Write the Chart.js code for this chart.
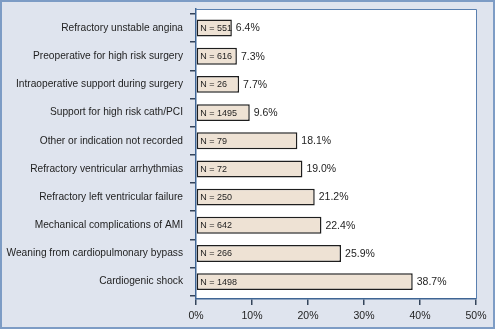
<!DOCTYPE html>
<html>
<head>
<meta charset="utf-8">
<script src="https://cdn.jsdelivr.net/npm/chart.js@4"></script>
<style>
  html, body { margin: 0; padding: 0; background: #dfe4ee; }
  canvas { display: block; }
</style>
</head>
<body>
<canvas id="chart" width="495" height="329"></canvas>
<script>
// IABP indications: share of patients (%) and counts
const categories = [
  "Refractory unstable angina",
  "Preoperative for high risk surgery",
  "Intraoperative support during surgery",
  "Support for high risk cath/PCI",
  "Other or indication not recorded",
  "Refractory ventricular arrhythmias",
  "Refractory left ventricular failure",
  "Mechanical complications of AMI",
  "Weaning from cardiopulmonary bypass",
  "Cardiogenic shock"
];
const percents = [6.4, 7.3, 7.7, 9.6, 18.1, 19.0, 21.2, 22.4, 25.9, 38.7];
const counts = [551, 616, 26, 1495, 79, 72, 250, 642, 266, 1498];
const xTicks = [0, 10, 20, 30, 40, 50];

const axisBlue = "#3f6594";
const tickColor = "#34445a";
const textColor = "#1e1e1e";
const fontFamily = "'Liberation Sans', Arial, Helvetica, sans-serif";

// background, outer frame and white plot box
const framePlugin = {
  id: "frame",
  beforeDraw(chart) {
    const { ctx, chartArea: a } = chart;
    ctx.save();
    ctx.fillStyle = "#dfe4ee";
    ctx.fillRect(0, 0, chart.width, chart.height);
    ctx.strokeStyle = "#7d9cc5";
    ctx.lineWidth = 2;
    ctx.strokeRect(1, 1, chart.width - 2, chart.height - 2);
    ctx.fillStyle = "#ffffff";
    ctx.fillRect(a.left, a.top, a.right - a.left, a.bottom - a.top);
    ctx.restore();
  },
  afterDraw(chart) {
    const { ctx, chartArea: a } = chart;
    ctx.save();
    ctx.strokeStyle = "#5a80b0";
    ctx.lineWidth = 1;
    ctx.beginPath();
    ctx.moveTo(a.left, a.top + 0.5);
    ctx.lineTo(a.right + 0.5, a.top + 0.5);
    ctx.lineTo(a.right + 0.5, a.bottom);
    ctx.stroke();
    ctx.restore();
  }
};

// "N = ..." inside the bar, percentage after it
const labelPlugin = {
  id: "barLabels",
  afterDatasetsDraw(chart) {
    const { ctx } = chart;
    const meta = chart.getDatasetMeta(0);
    ctx.save();
    ctx.fillStyle = textColor;
    ctx.textBaseline = "middle";
    ctx.textAlign = "left";
    meta.data.forEach((bar, i) => {
      ctx.font = "9px " + fontFamily;
      ctx.fillText("N = " + counts[i], bar.base + 3.5, bar.y + 0.5);
      ctx.font = "10.5px " + fontFamily;
      ctx.fillText(percents[i].toFixed(1) + "%", bar.x + 4, bar.y + 0.5);
    });
    ctx.restore();
  }
};

new Chart(document.getElementById("chart"), {
  type: "bar",
  data: {
    datasets: [{
      data: categories.map((c, i) => ({ x: percents[i], y: i })),
      backgroundColor: "#eee2d4",
      borderColor: "#1e1e1e",
      borderWidth: 1.5,
      borderSkipped: false,
      barPercentage: 0.6,
      categoryPercentage: 1.0
    }]
  },
  options: {
    indexAxis: "y",
    responsive: false,
    animation: false,
    layout: { padding: { top: 9, right: 19, left: 0, bottom: 0 }, autoPadding: false },
    plugins: {
      legend: { display: false },
      tooltip: { enabled: false }
    },
    scales: {
      x: {
        type: "linear",
        min: 0,
        max: 50,
        offset: false,
        afterBuildTicks: (scale) => {
          scale.ticks = xTicks.map(v => ({ value: v }));
        },
        afterFit: (scale) => {
          scale.height = 30;
          scale.paddingLeft = 0;
          scale.paddingRight = 0;
        },
        ticks: {
          callback: (v) => v + "%",
          color: textColor,
          font: { size: 10.5, family: fontFamily },
          padding: 5,
          maxRotation: 0
        },
        grid: {
          drawOnChartArea: false,
          tickLength: 6,
          lineWidth: 1.5,
          color: tickColor
        },
        border: { color: axisBlue, width: 1.5 }
      },
      y: {
        type: "linear",
        reverse: true,
        offset: false,
        min: -0.677,
        max: 9.617,
        afterBuildTicks: (scale) => {
          scale.ticks = categories.map((c, i) => ({ value: i }));
        },
        afterFit: (scale) => {
          scale.width = 196;
          scale.paddingTop = 0;
          scale.paddingBottom = 0;
        },
        ticks: {
          autoSkip: false,
          callback: (v) => categories[Math.round(v)],
          color: textColor,
          font: { size: 10.2, family: fontFamily },
          padding: 7
        },
        grid: {
          offset: true,
          drawOnChartArea: false,
          tickLength: 6,
          lineWidth: 1.5,
          color: tickColor
        },
        border: { color: axisBlue, width: 1.5 }
      }
    }
  },
  plugins: [framePlugin, labelPlugin]
});
</script>
</body>
</html>
